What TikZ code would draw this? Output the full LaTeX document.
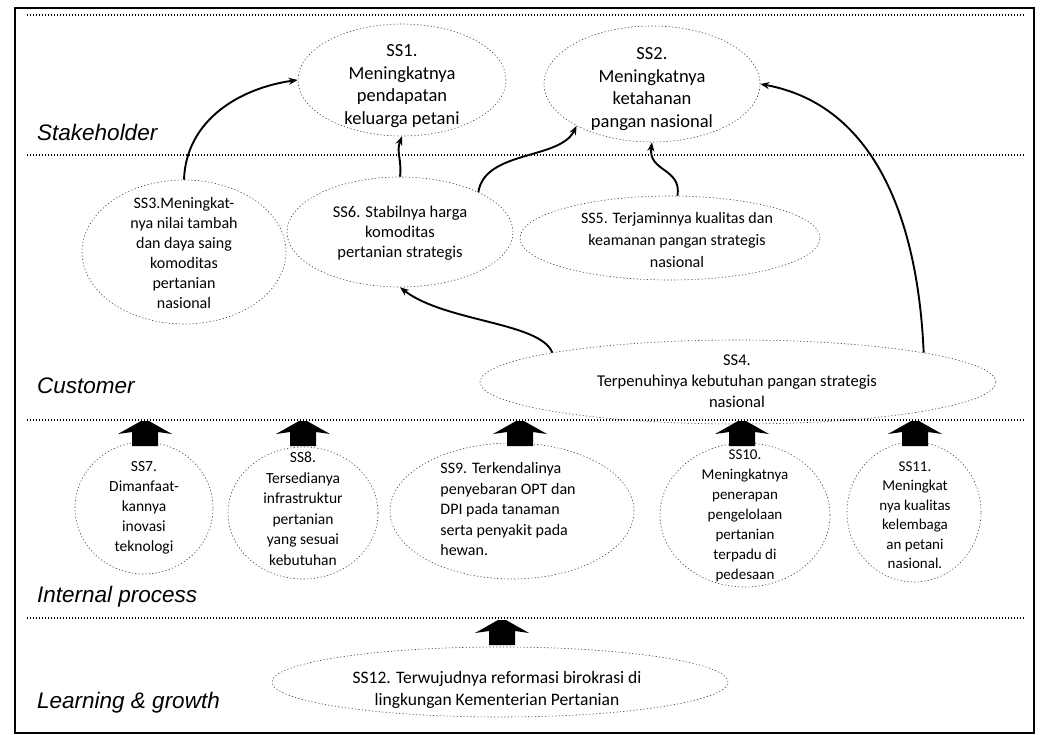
\documentclass[tikz,border=0pt]{standalone}
\usepackage{fontspec}
\setmainfont{Carlito}
\newfontfamily\labelfont{Liberation Sans}
\usetikzlibrary{arrows.meta,shapes.geometric}
\begin{document}
\begin{tikzpicture}[x=1pt,y=-1pt,
  oval/.style={ellipse, draw=black!75, line width=0.6pt, dash pattern=on 1.2pt off 2.2pt, inner sep=0pt},
  txt/.style={align=center, inner sep=0pt},
  sep/.style={line width=1.3pt, dash pattern=on 1.4pt off 1.6pt},
  flow/.style={line width=1.9pt, -{Stealth[length=9pt,width=7pt]}},
  lvl/.style={anchor=west, font=\labelfont\itshape\fontsize{22.5}{26}\selectfont, inner sep=0pt},
  uparrow/.pic={\fill[black] (-4,0) -- (4,0) -- (27,13) -- (13,11) -- (13,25) -- (-13,25) -- (-13,11) -- (-27,13) -- cycle;}]
\useasboundingbox (0,0) rectangle (1044,734);
\draw[line width=1.5pt] (15,8) rectangle (1034,733);
% separators
\draw[sep] (27,15) -- (1025,15);
\draw[sep] (27,155) -- (1025,155);
\draw[sep] (27,420) -- (1025,420);
\draw[sep] (27,618) -- (1025,618);
% level labels
\node[lvl] (lstake) at (37,132) {Stakeholder};
\node[lvl] (lcust) at (37,386) {Customer};
\node[lvl] (lint) at (37,597) {Internal process};
\node[lvl] (llearn) at (37,703) {Learning \& growth};
% ellipses
\node[oval, minimum width=208, minimum height=112] (ss1) at (402,80) {};
\node[txt, font=\fontsize{18.5}{22.5}\selectfont] (ss1t) at (402,86) {SS1.\\Meningkatnya\\pendapatan\\keluarga petani};
\node[oval, minimum width=216, minimum height=116] (ss2) at (652,84) {};
\node[txt, font=\fontsize{18.5}{22.5}\selectfont] (ss2t) at (652,89) {SS2.\\Meningkatnya\\ketahanan\\pangan nasional};
\node[oval, minimum width=204, minimum height=144] (ss3) at (184,252) {};
\node[txt, font=\fontsize{16}{20}\selectfont] (ss3t) at (184,253) {SS3.Meningkat-\\nya nilai tambah\\dan daya saing\\komoditas\\pertanian\\nasional};
\node[oval, minimum width=226, minimum height=110] (ss6) at (400,232) {};
\node[txt, font=\fontsize{16.5}{20}\selectfont] (ss6t) at (400,233) {SS6. Stabilnya harga\\komoditas\\pertanian strategis};
\node[oval, minimum width=300, minimum height=84] (ss5) at (670,238) {};
\node[txt, font=\fontsize{16}{22}\selectfont] (ss5t) at (677,240) {SS5. Terjaminnya kualitas dan\\keamanan pangan strategis\\nasional};
\node[oval, minimum width=516, minimum height=84] (ss4) at (738,382) {};
\node[txt, font=\fontsize{16.5}{21}\selectfont] (ss4t) at (737,381) {SS4.\\Terpenuhinya kebutuhan pangan strategis\\nasional};
\node[oval, minimum width=138, minimum height=132] (ss7) at (144,508) {};
\node[txt, font=\fontsize{15.5}{20}\selectfont] (ss7t) at (144,508) {SS7.\\Dimanfaat-\\kannya\\inovasi\\teknologi};
\node[oval, minimum width=150, minimum height=132] (ss8) at (303,513) {};
\node[txt, font=\fontsize{15.5}{20.5}\selectfont] (ss8t) at (303,509) {SS8.\\Tersedianya\\infrastruktur\\pertanian\\yang sesuai\\kebutuhan};
\node[oval, minimum width=244, minimum height=136] (ss9) at (512,511) {};
\node[txt, align=left, font=\fontsize{16}{20.5}\selectfont] (ss9t) at (508,509) {SS9. Terkendalinya\\penyebaran OPT dan\\DPI pada tanaman\\serta penyakit pada\\hewan.};
\node[oval, minimum width=170, minimum height=144] (ss10) at (745,515) {};
\node[txt, font=\fontsize{15}{20}\selectfont] (ss10t) at (745,516) {SS10.\\Meningkatnya\\penerapan\\pengelolaan\\pertanian\\terpadu di\\pedesaan};
\node[oval, minimum width=134, minimum height=140] (ss11) at (914,512) {};
\node[txt, font=\fontsize{15}{19.5}\selectfont] (ss11t) at (915,515) {SS11.\\Meningkat\\nya kualitas\\kelembaga\\an petani\\nasional.};
\node[oval, minimum width=456, minimum height=70] (ss12) at (500,682) {};
\node[txt, font=\fontsize{17.5}{22}\selectfont] (ss12t) at (497,690) {SS12. Terwujudnya reformasi birokrasi di\\lingkungan Kementerian Pertanian};
% block arrows
\pic at (145,421) {uparrow};
\pic at (303,421) {uparrow};
\pic at (520,421) {uparrow};
\pic at (742,421) {uparrow};
\pic at (915,421) {uparrow};
\pic at (502,620) {uparrow};
% curved arrows
\draw[flow] (ss3.north) .. controls (186,120) and (240,88) .. (ss1.west);
\draw[flow] (ss6.north) .. controls (402,160) and (396,152) .. (ss1.south);
\draw[flow] (ss6.27) .. controls (485,150) and (560,160) .. (ss2.209);
\draw[flow] (ss5.80) .. controls (682,168) and (648,172) .. (ss2.south);
\draw[flow] (ss4.9) .. controls (918,220) and (875,105) .. (ss2.east);
\draw[flow] (ss4.171) .. controls (540,322) and (445,322) .. (ss6.south);
\end{tikzpicture}
\end{document}
